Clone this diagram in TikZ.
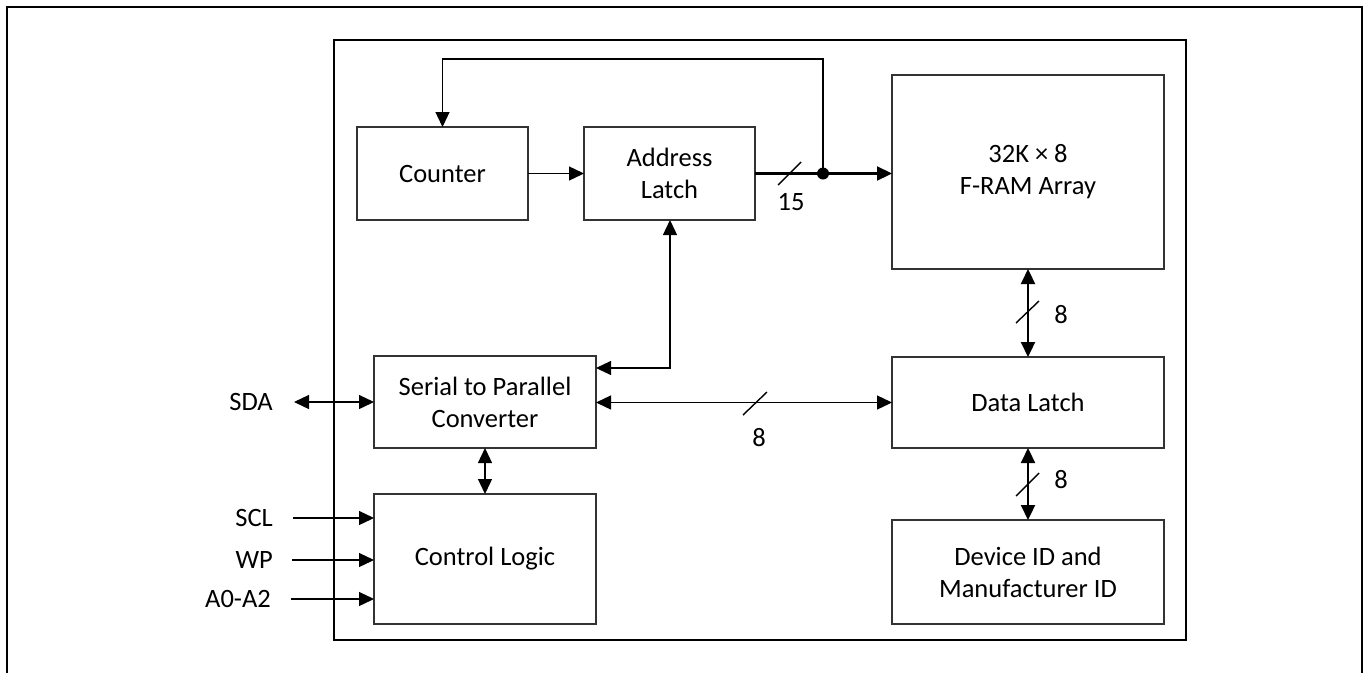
\documentclass[tikz,border=0pt]{standalone}
\usepackage{fontspec}
\setmainfont{Carlito}
\usetikzlibrary{arrows.meta,calc}
\begin{document}
\begin{tikzpicture}[x=1pt,y=-1pt,
  blk/.style={draw=black!80, line width=1.3pt, rectangle, inner sep=0pt, outer sep=0pt, align=center,
     font=\fontsize{26.5pt}{32pt}\selectfont},
  lbl/.style={inner sep=0pt, font=\fontsize{26.5pt}{32pt}\selectfont},
  wire/.style={line width=1.3pt},
  bus/.style={line width=2.2pt},
  tip/.style={-{Triangle[length=15pt,width=14pt]}},
  bitip/.style={{Triangle[length=15pt,width=14pt]}-{Triangle[length=15pt,width=14pt]}},
  slash/.style={line width=1.4pt}
]
\useasboundingbox (0,0) rectangle (1370,673);
% outer frame (open at bottom)
\draw[line width=2pt] (7,673) -- (7,7) -- (1362,7) -- (1362,673);
% chip box
\node[draw, line width=2pt, minimum width=852pt, minimum height=600pt, inner sep=0pt] (chip) at (760,340) {};
% blocks
\node[blk, minimum width=171pt, minimum height=93pt] (counter) at (442.5,173.5) {Counter};
\node[blk, minimum width=171pt, minimum height=93pt] (addr) at (669.5,173.5) {Address\\Latch};
\node[blk, minimum width=272pt, minimum height=194pt] (fram) at (1028,172) {32K × 8\\F-RAM Array};
\node[blk, minimum width=222pt, minimum height=92pt] (s2p) at (485,402) {Serial to Parallel\\Converter};
\node[blk, minimum width=222pt, minimum height=130pt] (ctrl) at (485,559) {Control Logic};
\node[blk, minimum width=272pt, minimum height=91pt] (dlatch) at (1028,402.5) {Data Latch};
\node[blk, minimum width=272pt, minimum height=104pt] (devid) at (1028,572) {Device ID and\\Manufacturer ID};
% pin labels
\node[lbl, anchor=east] (sda) at (273,402) {SDA};
\node[lbl, anchor=east] (scl) at (273,518) {SCL};
\node[lbl, anchor=east] (wp) at (273,560) {WP};
\node[lbl, anchor=east] (a0) at (271,599) {A0-A2};
\coordinate (sdaend) at (294,402);
\coordinate (sclend) at (293,518);
\coordinate (wpend) at (292,560);
\coordinate (a0end) at (291,599);
% connectors
\draw[wire, bitip] (sdaend) -- (sdaend -| s2p.west);
\draw[wire, tip] (sclend) -- (sclend -| ctrl.west);
\draw[wire, tip] (wpend) -- (wpend -| ctrl.west);
\draw[wire, tip] (a0end) -- (a0end -| ctrl.west);
\draw[wire, bitip] (s2p.south) -- (ctrl.north);
\draw[wire, tip] (counter.east) -- (addr.west);
% address bus
\coordinate (jn) at (823,173.5);
\draw[bus] (addr.east) -- (jn);
\draw[bus, tip] (jn) -- (jn -| fram.west);
\fill (jn) circle (6pt);
\coordinate (fbtop) at (823,59);
\draw[wire, tip] (jn) -- (fbtop) -- (fbtop -| counter.north) -- (counter.north);
\draw[slash] (778,185) -- (801,162);
\node[lbl] (n15) at (791,202) {15};
% address latch <-> serial
\coordinate (alc) at (670,368);
\draw[wire, bitip] (addr.south -| alc) -- (alc) -- (alc -| s2p.east);
% data bus
\draw[wire, bitip] (s2p.east |- dlatch.west) -- (dlatch.west);
\draw[slash] (743,415) -- (767,392);
\node[lbl] (n8a) at (759,438) {8};
% vertical buses
\draw[bus, bitip] (fram.south) -- (dlatch.north);
\draw[slash] (1016,323) -- (1039,301);
\node[lbl] (n8b) at (1061,315) {8};
\draw[bus, bitip] (dlatch.south) -- (devid.north);
\draw[slash] (1016,496) -- (1039,473);
\node[lbl] (n8c) at (1061,480) {8};
\end{tikzpicture}
\end{document}
